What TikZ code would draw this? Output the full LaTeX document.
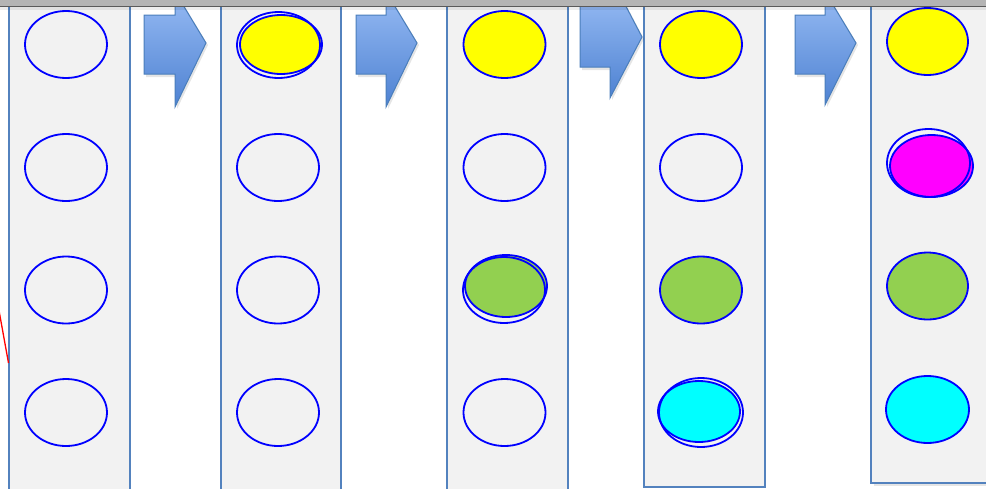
\documentclass[tikz,border=0pt]{standalone}
\usetikzlibrary{shapes.geometric}
\definecolor{panelfill}{HTML}{F2F2F2}
\definecolor{panelline}{HTML}{5382BE}
\definecolor{ringblue}{HTML}{0000FF}
\definecolor{cyellow}{HTML}{FFFF00}
\definecolor{cgreen}{HTML}{92D050}
\definecolor{ccyan}{HTML}{00FFFF}
\definecolor{cmagenta}{HTML}{FF00FF}
\definecolor{arrtop}{HTML}{95BAF3}
\definecolor{arrbot}{HTML}{4E82D2}
\definecolor{arrline}{HTML}{4A7EBB}
\definecolor{barfill}{HTML}{B4B4B4}
\definecolor{barline}{HTML}{5A5A5A}
\tikzset{
  panel/.style={draw=panelline, fill=panelfill, line width=1.6pt, rectangle, anchor=north west, inner sep=0pt, outer sep=0pt},
  slot/.style={ellipse, draw=ringblue, line width=1.8pt, minimum width=82pt, minimum height=67pt, inner sep=0pt, fill=panelfill},
  ring/.style={ellipse, draw=ringblue, line width=1.8pt, inner sep=0pt},
  blockarrow/.style={draw=arrline, line width=1pt, top color=arrtop, bottom color=arrbot},
  arrshadow/.style={fill=black, opacity=0.10}
}
\begin{document}
\begin{tikzpicture}[x=1pt,y=-1pt]
\useasboundingbox (0,0) rectangle (986,488);
\clip (0,0) rectangle (986,488);
\fill[white] (0,0) rectangle (986,488);

% panels
\node[panel, minimum width=121pt, minimum height=505pt] (P1) at (9,-5) {};
\node[panel, minimum width=120pt, minimum height=505pt] (P2) at (221,-5) {};
\node[panel, minimum width=121pt, minimum height=505pt] (P3) at (447,-5) {};
\node[panel, minimum width=121pt, minimum height=492pt] (P4) at (644,-5) {};
\fill[black, opacity=0.10] (874,-5) rectangle (995,486);
\node[panel, minimum width=125pt, minimum height=488pt] (P5) at (871,-5) {};

% panel 1
\node[slot] (a1) at (66,44.5) {};
\node[slot] (a2) at (66,167.5) {};
\node[slot] (a3) at (66,290) {};
\node[slot] (a4) at (66,412.5) {};

% panel 2
\node[ring, fill=cyellow, minimum width=82pt, minimum height=59pt] (b1) at (281,44.5) {};
\node[ring, minimum width=83pt, minimum height=66pt] (b1o) at (278.5,45) {};
\node[slot] (b2) at (278,167.5) {};
\node[slot] (b3) at (278,290) {};
\node[slot] (b4) at (278,412.5) {};

% panel 3
\node[slot, fill=cyellow] (c1) at (504.5,44.5) {};
\node[slot] (c2) at (504.5,167.5) {};
\node[ring, fill=cgreen, minimum width=82pt, minimum height=62pt] (c3) at (506,286) {};
\node[ring, minimum width=82pt, minimum height=66pt] (c3o) at (504,290) {};
\node[slot] (c4) at (504.5,412.5) {};

% panel 4
\node[slot, fill=cyellow] (d1) at (701,44.5) {};
\node[slot] (d2) at (701,167.5) {};
\node[slot, fill=cgreen] (d3) at (701,290) {};
\node[ring, fill=ccyan, minimum width=82pt, minimum height=61pt] (d4) at (699,411.5) {};
\node[ring, minimum width=84pt, minimum height=69pt] (d4o) at (701,412.5) {};

% panel 5
\node[slot, fill=cyellow, minimum width=81pt] (e1) at (927.5,41.5) {};
\node[ring, fill=cmagenta, minimum width=83pt, minimum height=62pt] (e2) at (931.5,166) {};
\node[ring, minimum width=83pt, minimum height=68pt] (e2o) at (928.5,163) {};
\node[slot, fill=cgreen, minimum width=81pt] (e3) at (927.5,286) {};
\node[slot, fill=ccyan, minimum width=83pt] (e4) at (927.5,409.5) {};

% block arrows (shadow, then shape)
\fill[arrshadow] (146,18) -- (177,18) -- (177,-3) -- (179,-3) -- (208,45) -- (177,109) -- (177,77) -- (146,77) -- cycle;
\draw[blockarrow] (144,15) -- (175,15) -- (175,-5) -- (177,-5) -- (206,43) -- (175,107) -- (175,74) -- (144,74) -- cycle;

\fill[arrshadow] (358,18) -- (388,18) -- (388,-3) -- (390,-3) -- (419,45) -- (388,109) -- (388,77) -- (358,77) -- cycle;
\draw[blockarrow] (356,15) -- (386,15) -- (386,-5) -- (388,-5) -- (417,43) -- (386,107) -- (386,74) -- (356,74) -- cycle;

\fill[arrshadow] (582,-3) -- (622,-3) -- (644,39) -- (612,100) -- (612,70) -- (582,70) -- cycle;
\draw[blockarrow] (580,-5) -- (620,-5) -- (642,37) -- (610,98) -- (610,67) -- (580,67) -- cycle;

\fill[arrshadow] (797,18) -- (827,18) -- (827,-3) -- (829,-3) -- (858,45) -- (827,107) -- (827,77) -- (797,77) -- cycle;
\draw[blockarrow] (795,15) -- (825,15) -- (825,-5) -- (827,-5) -- (856,43) -- (825,105) -- (825,74) -- (795,74) -- cycle;

% red line at the left
\coordinate (r1) at (-2,305);
\coordinate (r2) at (8.5,363);
\draw[red, line width=1.3pt] (r1) -- (r2);

% top bar
\fill[barfill] (0,0) rectangle (986,6);
\draw[barline, line width=1.4pt] (0,6.5) -- (986,6.5);
\fill[black, opacity=0.07] (0,7.2) rectangle (986,10);
\end{tikzpicture}
\end{document}
